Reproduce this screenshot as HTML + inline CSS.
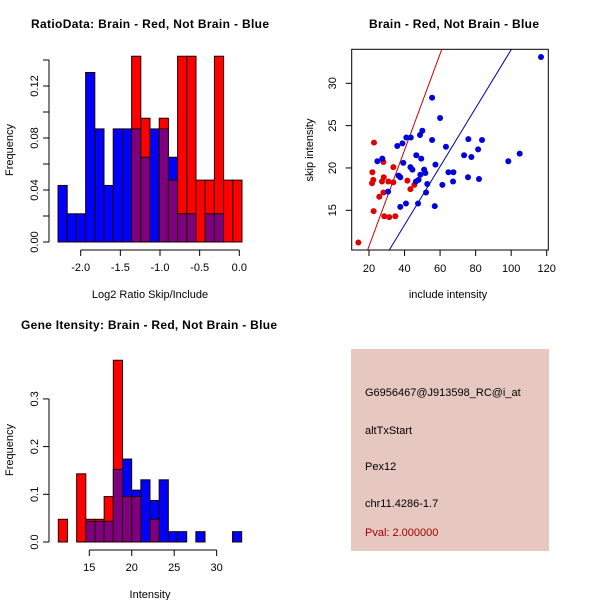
<!DOCTYPE html>
<html><head><meta charset="utf-8"><style>
body{margin:0;background:#fff}
svg{display:block;font-family:"Liberation Sans",sans-serif}
.t{font-weight:bold;font-size:12px}
.l{font-size:11px}
</style></head><body>
<svg id="c" width="600" height="600" xmlns="http://www.w3.org/2000/svg">
<rect width="600" height="600" fill="#fff"/>
<text class="t" x="150" y="28" text-anchor="middle" textLength="238">RatioData: Brain - Red, Not Brain - Blue</text>
<text class="t" x="454" y="28" text-anchor="middle" textLength="170">Brain - Red, Not Brain - Blue</text>
<text class="t" x="149" y="329" text-anchor="middle" textLength="256">Gene Itensity: Brain - Red, Not Brain - Blue</text>
<text class="l" x="150" y="298" text-anchor="middle">Log2 Ratio Skip/Include</text>
<text class="l" transform="translate(13,150) rotate(-90)" text-anchor="middle">Frequency</text>
<text class="l" x="448" y="298" text-anchor="middle">include intensity</text>
<text class="l" transform="translate(313,150) rotate(-90)" text-anchor="middle">skip intensity</text>
<text class="l" x="150" y="598" text-anchor="middle">Intensity</text>
<text class="l" transform="translate(13,450) rotate(-90)" text-anchor="middle">Frequency</text>
<g>
<rect x="351" y="349" width="198" height="202" fill="#e6c8c0"/>
<text class="l" x="365" y="396">G6956467@J913598_RC@i_at</text>
<text class="l" x="365" y="434">altTxStart</text>
<text class="l" x="365" y="470">Pex12</text>
<text class="l" x="365" y="507">chr11.4286-1.7</text>
<text class="l" x="365" y="536" fill="#a00000">Pval: 2.000000</text>
</g>
<g id="g1"></g><g id="g2"></g><g id="g3"></g>
</svg>
<script>
// Ratio histogram
const ratioBinStart = -2.286, ratioBinWidth = 0.1160;
const ratioBlue = [0.0435,0.0217,0.0217,0.1304,0.0870,0.0435,0.0870,0.0870,0.0870,0.0652,0.0870,0.0870,0.0652,0.0217,0.0217,0,0.0217,0.0217,0,0];
const ratioRed  = [0,0,0,0,0,0,0,0,0.1429,0.0952,0,0.0952,0.0476,0.1429,0.1429,0.0476,0.0476,0.1429,0.0476,0.0476];
const ratioXTicks = [-2.0,-1.5,-1.0,-0.5,0.0];
const ratioXLabels = ["-2.0","-1.5","-1.0","-0.5","0.0"];
const ratioYTicks = [0,0.02,0.04,0.06,0.08,0.10,0.12,0.14];
const ratioYLabels = ["0.00","","0.04","","0.08","","0.12",""];
// Intensity histogram
const intBinStart = 11.35, intBinWidth = 1.08;
const intBlue = [0,0,0,0.0435,0.0435,0.0435,0.1522,0.1739,0.1087,0.1304,0.0870,0.1304,0.0217,0.0217,0,0.0217,0,0,0,0.0217];
const intRed  = [0.0476,0,0.1429,0.0476,0.0476,0.0952,0.3810,0.0952,0.0952,0,0.0476,0,0,0,0,0,0,0,0,0];
const intXTicks = [15,20,25,30];
const intYTicks = [0,0.1,0.2,0.3];
const intYLabels = ["0.0","0.1","0.2","0.3"];
// Scatter
const redInclude = [14.0,22.8,21.9,22.4,21.7,22.6,28.1,28.3,27.3,28.1,25.8,28.6,31.4,34.8,30.9,33.7,33.7,41.6,43.3,45.5];
const redSkip    = [11.2,23.0,19.5,18.6,18.2,14.9,20.7,18.9,18.4,17.1,16.6,14.3,14.2,14.3,18.4,20.1,18.3,18.5,17.5,18.0];
const blueInclude = [24.7,27.5,30.7,35.9,38.8,36.7,37.6,39.3,37.6,40.8,41.0,43.5,43.3,44.4,46.6,46.4,47.9,47.6,48.9,49.4,48.7,50.0,51.0,51.7,52.1,52.8,55.5,55.5,57.0,57.4,60.0,61.3,63.3,64.7,67.5,67.3,73.5,75.9,75.7,77.6,81.4,81.9,83.6,98.4,104.8,116.8];
const blueSkip    = [20.8,21.1,17.2,22.6,22.9,19.1,18.9,20.6,15.4,15.8,23.6,23.6,20.1,19.8,21.5,18.4,18.6,15.8,19.2,21.1,23.9,24.4,19.8,19.4,17.1,18.1,28.3,23.3,15.5,20.4,25.9,18.0,22.5,19.5,19.5,18.4,21.5,23.4,18.9,21.3,22.2,18.7,23.3,20.8,21.7,33.1];
const redLine = [0.568,-0.61];   // slope, intercept
const blueLine = [0.345,-0.53];
const scXTicks = [20,40,60,80,100,120];
const scYTicks = [15,20,25,30];

const NS="http://www.w3.org/2000/svg";
function mk(parent,tag,attrs){const e=document.createElementNS(NS,tag);for(const k in attrs)e.setAttribute(k,attrs[k]);parent.appendChild(e);return e;}
function hist(g,xs,ys,start,w,blue,red,prefix){
  blue.forEach((b,i)=>{
    const r=red[i];const x0=xs(start+i*w),x1=xs(start+(i+1)*w);
    const hi=Math.max(b,r),lo=Math.min(b,r);
    if(hi>0){const e=mk(g,'rect',{x:x0,y:ys(hi),width:x1-x0,height:ys(0)-ys(hi),fill:b>=r?'#0000ff':'#ff0000',stroke:'#200000','stroke-width':1});
      
      }
    if(lo>0){const e=mk(g,'rect',{x:x0,y:ys(lo),width:x1-x0,height:ys(0)-ys(lo),fill:'#7f007f',stroke:'#200000','stroke-width':1});
      
      }
  });
}
function xaxis(g,xs,ticks,labels,y,name){
  const a=mk(g,'line',{x1:xs(ticks[0]),x2:xs(ticks[ticks.length-1]),y1:y,y2:y,stroke:'#000'});
  
  
  ticks.forEach((t,i)=>{mk(g,'line',{x1:xs(t),x2:xs(t),y1:y,y2:y+6,stroke:'#000'});
    const tx=mk(g,'text',{x:xs(t),y:y+21,'text-anchor':'middle','class':'l'});tx.textContent=labels[i];
    
    });
}
function yaxis(g,ys,ticks,labels,x,name){
  const a=mk(g,'line',{x1:x,x2:x,y1:ys(ticks[0]),y2:ys(ticks[ticks.length-1]),stroke:'#000'});
  
  
  ticks.forEach((t,i)=>{mk(g,'line',{x1:x-6,x2:x,y1:ys(t),y2:ys(t),stroke:'#000'});
    if(labels[i]){const tx=mk(g,'text',{transform:`translate(${x-11},${ys(t)}) rotate(-90)`,'text-anchor':'middle','class':'l'});tx.textContent=labels[i];
    
    }});
}
// plot 1
{const g=document.getElementById('g1');
 const xs=v=>80.7+(v+2)*79.3, ys=v=>242-v*1300;
 hist(g,xs,ys,ratioBinStart,ratioBinWidth,ratioBlue,ratioRed,'ratio');
 xaxis(g,xs,ratioXTicks,ratioXLabels,250,'ratio-x-axis');
 yaxis(g,ys,ratioYTicks,ratioYLabels,49,'ratio-y-axis');}
// plot 3
{const g=document.getElementById('g3');
 const xs=v=>89.3+(v-15)*8.49, ys=v=>542-v*477;
 hist(g,xs,ys,intBinStart,intBinWidth,intBlue,intRed,'intensity');
 xaxis(g,xs,intXTicks,intXTicks.map(String),550,'intensity-x-axis');
 yaxis(g,ys,intYTicks,intYLabels,49,'intensity-y-axis');}
// plot 2
{const g=document.getElementById('g2');
 const xs=v=>369+(v-20)*1.777, ys=v=>210.3-(v-15)*8.467;
 const xmin=(351.7-369)/1.777+20,xmax=(548.3-369)/1.777+20,ymin=10.31,ymax=34.0;
 const clip=mk(g,'clipPath',{id:'sc'});mk(clip,'rect',{x:351.7,y:49.3,width:196.6,height:200.7});
 [[redLine,'#cc0000','red-fit-line'],[blueLine,'#0000aa','blue-fit-line']].forEach(([p,c,n])=>{
   const l=mk(g,'line',{x1:xs(xmin),y1:ys(p[0]*xmin+p[1]),x2:xs(xmax),y2:ys(p[0]*xmax+p[1]),stroke:c,'clip-path':'url(#sc)'});
   
   });
 redInclude.forEach((v,i)=>{const c=mk(g,'circle',{cx:xs(v),cy:ys(redSkip[i]),r:3,fill:'#e00000'});
   
   });
 blueInclude.forEach((v,i)=>{const c=mk(g,'circle',{cx:xs(v),cy:ys(blueSkip[i]),r:3,fill:'#0000dd'});
   
   });
 const b=mk(g,'rect',{x:351.7,y:49.3,width:196.6,height:200.7,fill:'none',stroke:'#000'});
 
 
 scXTicks.forEach(t=>{mk(g,'line',{x1:xs(t),x2:xs(t),y1:250,y2:256,stroke:'#000'});
   const tx=mk(g,'text',{x:xs(t),y:272,'text-anchor':'middle','class':'l'});tx.textContent=t;
   
   });
 scYTicks.forEach(t=>{mk(g,'line',{x1:345.7,x2:351.7,y1:ys(t),y2:ys(t),stroke:'#000'});
   const tx=mk(g,'text',{transform:`translate(336,${ys(t)}) rotate(-90)`,'text-anchor':'middle','class':'l'});tx.textContent=t;
   
   });}
</script>
</body></html>
